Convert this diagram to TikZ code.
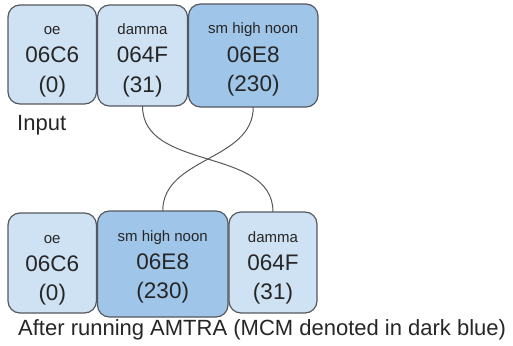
\documentclass[tikz,border=0pt]{standalone}
\usepackage{fontspec}
\setmainfont{Liberation Sans}
\definecolor{lightcell}{HTML}{CFE2F3}
\definecolor{darkcell}{HTML}{9FC5E8}
\definecolor{cellborder}{HTML}{55595E}
\definecolor{txt}{HTML}{262626}
\tikzset{
  cellbox/.style={draw=cellborder, line width=1.2pt, rounded corners=12pt},
  lbl/.style={anchor=base, inner sep=0pt, text=txt, font=\fontsize{15}{18}\selectfont},
  big/.style={anchor=base, inner sep=0pt, text=txt, font=\fontsize{22.5}{26}\selectfont},
  captext/.style={anchor=base west, inner sep=0pt, text=txt, font=\fontsize{22}{26}\selectfont},
  swapline/.style={draw=cellborder, line width=1pt}
}
% \cellnode{name}{x1}{y1}{x2}{y2}{fill}{label}{code}{num}
\newcommand{\cellnode}[9]{%
  \filldraw[cellbox, fill=#6] (#2,#3) rectangle (#4,#5);
  \coordinate (#1) at ({(#2+#4)/2},{(#3+#5)/2});
  \coordinate (#1-n) at ({(#2+#4)/2},#3);
  \coordinate (#1-s) at ({(#2+#4)/2},#5);
  \node[lbl] (#1-l) at ({(#2+#4)/2},{#3+30}) {#7};
  \node[big] (#1-c) at ({(#2+#4)/2},{#3+58}) {#8};
  \node[big] (#1-v) at ({(#2+#4)/2},{#3+87}) {#9};
}
\begin{document}
\begin{tikzpicture}[x=1pt,y=-1pt]
\useasboundingbox (0,0) rectangle (513,345);
% input row
\cellnode{ta}{8}{5}{96.5}{104}{lightcell}{oe}{06C6}{(0)}
\cellnode{tb}{97.5}{5}{187.5}{106}{lightcell}{damma}{064F}{(31)}
\cellnode{tc}{188.5}{4}{318}{107}{darkcell}{sm high noon}{06E8}{(230)}
\node[captext] (inlbl) at (17,130) {Input};
% output row
\cellnode{ua}{8}{213}{96.5}{313}{lightcell}{oe}{06C6}{(0)}
\cellnode{ub}{97.5}{211}{228}{317}{darkcell}{sm high noon}{06E8}{(230)}
\cellnode{uc}{229}{212}{317}{313}{lightcell}{damma}{064F}{(31)}
\node[captext] (outlbl) at (18,335) {After running AMTRA (MCM denoted in dark blue)};
% swaps
\draw[swapline] (tb-s) to[out=-90,in=90] (uc-n);
\draw[swapline] (tc-s) to[out=-90,in=90] (ub-n);
\end{tikzpicture}
\end{document}
